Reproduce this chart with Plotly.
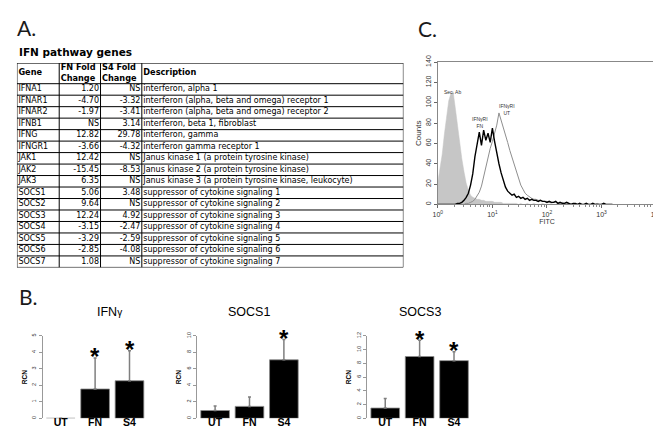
import plotly.graph_objects as go

# ---------------- Panel A: table data ----------------
TABLE_HEADERS = ["Gene", "FN Fold<br>Change", "S4 Fold<br>Change", "Description"]
GENES = ["IFNA1", "IFNAR1", "IFNAR2", "IFNB1", "IFNG", "IFNGR1", "JAK1", "JAK2",
         "JAK3", "SOCS1", "SOCS2", "SOCS3", "SOCS4", "SOCS5", "SOCS6", "SOCS7"]
FN_FOLD = ["1.20", "-4.70", "-1.97", "NS", "12.82", "-3.66", "12.42", "-15.45",
           "6.35", "5.06", "9.64", "12.24", "-3.15", "-3.29", "-2.85", "1.08"]
S4_FOLD = ["NS", "-3.32", "-3.41", "3.14", "29.78", "-4.32", "NS", "-8.53",
           "NS", "3.48", "NS", "4.92", "-2.47", "-2.59", "-4.08", "NS"]
DESCRIPTIONS = [
    "interferon, alpha 1",
    "interferon (alpha, beta and omega) receptor 1",
    "interferon (alpha, beta and omega) receptor 2",
    "interferon, beta 1, fibroblast",
    "interferon, gamma",
    "interferon gamma receptor 1",
    "Janus kinase 1 (a protein tyrosine kinase)",
    "Janus kinase 2 (a protein tyrosine kinase)",
    "Janus kinase 3 (a protein tyrosine kinase, leukocyte)",
    "suppressor of cytokine signaling 1",
    "suppressor of cytokine signaling 2",
    "suppressor of cytokine signaling 3",
    "suppressor of cytokine signaling 4",
    "suppressor of cytokine signaling 5",
    "suppressor of cytokine signaling 6",
    "suppressor of cytokine signaling 7",
]

# ---------------- Panel B: qPCR bars ----------------
CONDITIONS = ["UT", "FN", "S4"]
BAR_TITLES = ["IFN<span style='font-size:10px'>γ</span>", "SOCS1", "SOCS3"]
IFNG_RCN = [0.0, 1.78, 2.28]
IFNG_ERR = [0.0, 1.88, 1.82]
SOCS1_RCN = [0.95, 1.45, 7.1]
SOCS1_ERR = [0.55, 1.15, 2.45]
SOCS3_RCN = [1.5, 9.0, 8.4]
SOCS3_ERR = [1.4, 2.35, 1.3]
SIGNIFICANT = [[False, True, True], [False, False, True], [False, True, True]]
Y_MAX = [5, 10, 12]
Y_STEP = [1, 2, 2]

# ---------------- Panel C: flow histogram ----------------
FITC_LOG = [0.00, 0.04, 0.08, 0.12, 0.16, 0.20, 0.24, 0.28, 0.32, 0.36,
            0.40, 0.44, 0.48, 0.52, 0.56, 0.60, 0.64, 0.68, 0.72, 0.76,
            0.80, 0.84, 0.88, 0.92, 0.96, 1.00, 1.04, 1.08, 1.12, 1.16,
            1.20, 1.24, 1.28, 1.32, 1.36, 1.40, 1.44, 1.48, 1.52, 1.56,
            1.60, 1.64, 1.68, 1.72, 1.76, 1.80, 1.84, 1.88, 1.92, 1.96,
            2.00, 2.04, 2.08, 2.12, 2.16, 2.20, 2.24, 2.28, 2.32, 2.36,
            2.40, 2.44, 2.48, 2.52, 2.56, 2.60, 2.64, 2.68, 2.72, 2.76,
            2.80, 2.84, 2.88, 2.92, 2.96, 3.00, 3.04, 3.08, 3.12, 3.16,
            3.20]
SEC_AB_COUNTS = [22, 35, 49, 69, 85, 102, 109, 111, 95, 77,
                 60, 45, 32, 21, 14, 9, 7, 6, 5, 5,
                 4, 4, 3, 3, 3, 3, 2, 2, 2, 2,
                 1, 1, 1, 1, 1, 1, 1, 0, 1, 0,
                 0, 1, 0, 0, 1, 0, 0, 0, 1, 0,
                 0, 0, 1, 0, 0, 0, 0, 1, 0, 0,
                 0, 0, 0, 0, 0, 0, 0, 0, 0, 0,
                 0, 0, 0, 0, 0, 0, 0, 0, 0, 0,
                 0]
FN_COUNTS = [0, 0, 0, 0, 0, 0, 0, 0, 0, 1,
             1, 2, 4, 7, 11, 19, 30, 47, 61, 71,
             58, 73, 63, 70, 61, 75, 62, 50, 40, 31,
             24, 17, 13, 11, 9, 10, 7, 8, 6, 7,
             5, 6, 4, 5, 4, 4, 3, 4, 3, 3,
             2, 3, 2, 2, 3, 1, 2, 1, 1, 2,
             1, 0, 1, 1, 0, 1, 0, 0, 1, 0,
             0, 1, 0, 0, 0, 0, 1, 0, 0, 0,
             0]
UT_COUNTS = [0, 0, 0, 0, 0, 0, 0, 0, 0, 0,
             0, 0, 0, 1, 1, 2, 3, 5, 8, 12,
             18, 27, 37, 48, 55, 62, 69, 78, 90, 83,
             75, 70, 61, 53, 46, 40, 33, 25, 19, 15,
             11, 9, 7, 6, 5, 5, 4, 4, 3, 3,
             3, 2, 2, 2, 2, 1, 1, 2, 1, 1,
             1, 0, 1, 0, 0, 1, 0, 0, 0, 0,
             0, 0, 0, 1, 0, 0, 0, 0, 0, 0,
             0]
X_TICK_VALS = [1, 10, 100, 1000, 10000]
X_TICK_TEXT = ["10<sup>0</sup>", "10<sup>1</sup>", "10<sup>2</sup>", "10<sup>3</sup>", "10<sup>4</sup>"]

W, H = 661, 429


def px(x):
    return x / W


def py(y):
    return 1 - y / H


fig = go.Figure()
annotations = []
shapes = []

# ---- Table (drawn on a hidden axis pair; units are pixels inside the table box)
COL_EDGES = [0, 43, 85, 127, 393]
HEADER_H = 21
ROW_H = 11.7
n_rows = len(GENES)
table_h = HEADER_H + ROW_H * n_rows
row_centers = [HEADER_H + ROW_H * (i + 0.5) for i in range(n_rows)]
fig.update_layout(
    xaxis5=dict(domain=[px(4), px(4 + COL_EDGES[-1])], anchor="y5", range=[0, COL_EDGES[-1]], visible=False),
    yaxis5=dict(domain=[py(49 + table_h), py(49)], anchor="x5", range=[table_h, 0], visible=False),
)
line_style = dict(color="black", width=1)
for xe in COL_EDGES:
    shapes.append(dict(type="line", xref="x5", yref="y5", x0=xe, x1=xe, y0=0, y1=table_h, line=line_style))
for yb in [0, HEADER_H] + [HEADER_H + ROW_H * (i + 1) for i in range(n_rows)]:
    shapes.append(dict(type="line", xref="x5", yref="y5", x0=0, x1=COL_EDGES[-1], y0=yb, y1=yb, line=line_style))
cell_font = dict(family="DejaVu Sans", size=8.0, color="black")
for ci, (col_vals, align) in enumerate(zip([GENES, FN_FOLD, S4_FOLD, DESCRIPTIONS],
                                           ["left", "right", "right", "left"])):
    if align == "left":
        xs, pos = [COL_EDGES[ci] + 1.5] * n_rows, "middle right"
    else:
        xs, pos = [COL_EDGES[ci + 1] - 1.5] * n_rows, "middle left"
    fig.add_trace(go.Scatter(x=xs, y=row_centers, text=col_vals, mode="text", textposition=pos,
                             textfont=cell_font, xaxis="x5", yaxis="y5", cliponaxis=False,
                             hoverinfo="skip", showlegend=False))
fig.add_trace(go.Scatter(x=[e + 1.5 for e in COL_EDGES[:-1]], y=[HEADER_H / 2] * 4,
                         text=[f"<b>{h}</b>" for h in TABLE_HEADERS], mode="text",
                         textposition="middle right", textfont=dict(family="DejaVu Sans", size=8.2, color="black"),
                         xaxis="x5", yaxis="y5", cliponaxis=False, hoverinfo="skip", showlegend=False))

# ---- Bars
bar_sets = [(IFNG_RCN, IFNG_ERR), (SOCS1_RCN, SOCS1_ERR), (SOCS3_RCN, SOCS3_ERR)]
x_domains = [(30, 137), (187, 294), (360, 467)]
for k, ((vals, errs), (x0, x1)) in enumerate(zip(bar_sets, x_domains), start=1):
    fig.add_trace(go.Bar(
        x=CONDITIONS, y=vals, width=1 / 1.2,
        marker=dict(color="black", line=dict(color="#8c8c8c", width=0.8)),
        error_y=dict(type="data", array=errs, arrayminus=[0] * 3, symmetric=False,
                     color="#7f7f7f", thickness=1.5, width=1.5),
        xaxis=f"x{k}", yaxis=f"y{k}", showlegend=False,
    ))
    fig.update_layout(**{
        f"xaxis{k}": dict(domain=[px(x0), px(x1)], anchor=f"y{k}", type="category",
                          range=[-0.53, 2.53], showline=False, showgrid=False,
                          ticks="outside", ticklen=2, tickcolor="#aaaaaa", ticklabelstandoff=-8,
                          tickfont=dict(family="Liberation Sans", size=10.5, color="black", weight="bold")),
        f"yaxis{k}": dict(domain=[py(411), py(327)], anchor=f"x{k}", range=[0, Y_MAX[k - 1]],
                          dtick=Y_STEP[k - 1], tickangle=-90, showline=True, linecolor="#999999",
                          linewidth=1, ticks="outside", ticklen=3, tickcolor="#999999",
                          showgrid=False, zeroline=False,
                          tickfont=dict(family="Liberation Sans", size=5.5, color="#333333"),
                          title=dict(text="<b>RCN</b>", standoff=3,
                                     font=dict(family="Liberation Sans", size=6.5, color="black"))),
    })
    annotations.append(dict(xref="paper", yref="paper", x=px((x0 + x1) / 2), y=py(312),
                            text=BAR_TITLES[k - 1], showarrow=False,
                            font=dict(family="Liberation Sans", size=12.5, color="black")))
    for cond, v, e, s in zip(CONDITIONS, vals, errs, SIGNIFICANT[k - 1]):
        if s:
            annotations.append(dict(xref=f"x{k}", yref=f"y{k}", x=cond, y=v + e, text="<b>*</b>",
                                    showarrow=False, yanchor="middle", yshift=1,
                                    font=dict(family="Liberation Sans", size=24, color="black")))

# ---- Histogram
fitc = [10 ** v for v in FITC_LOG]
fig.add_trace(go.Scatter(x=fitc, y=SEC_AB_COUNTS, mode="lines", fill="tozeroy",
                         fillcolor="#c6c6c6", line=dict(color="#c6c6c6", width=0.5),
                         xaxis="x4", yaxis="y4", showlegend=False))
fig.add_trace(go.Scatter(x=fitc, y=UT_COUNTS, mode="lines", line=dict(color="#8e8e8e", width=1),
                         xaxis="x4", yaxis="y4", showlegend=False))
fig.add_trace(go.Scatter(x=fitc, y=FN_COUNTS, mode="lines", line=dict(color="black", width=1.4),
                         xaxis="x4", yaxis="y4", showlegend=False))
fig.update_layout(
    xaxis4=dict(domain=[px(432), px(654)], anchor="y4", type="log", range=[0, 4],
                tickvals=X_TICK_VALS, ticktext=X_TICK_TEXT, ticks="outside", ticklen=3,
                tickcolor="#666666", showline=True, linecolor="#888888", mirror=True,
                showgrid=False, zeroline=False,
                minor=dict(ticks="outside", ticklen=1.5, tickcolor="#888888", dtick="D1"),
                tickfont=dict(family="Liberation Sans", size=7, color="#333333"),
                title=dict(text="FITC", standoff=0, font=dict(family="Liberation Sans", size=7, color="#333333"))),
    yaxis4=dict(domain=[py(193), py(48)], anchor="x4", range=[0, 140], dtick=20, tickangle=-90,
                ticks="outside", ticklen=3, tickcolor="#666666", showline=True, linecolor="#888888",
                mirror=True, showgrid=False, zeroline=False,
                tickfont=dict(family="Liberation Sans", size=7, color="#333333"),
                title=dict(text="Counts", standoff=2, font=dict(family="Liberation Sans", size=8, color="#333333"))),
)
annotations += [
    dict(xref="x4", yref="y4", x=0.27, y=111, text="Sec. Ab", showarrow=False,
         font=dict(family="Liberation Sans", size=5, color="#333333")),
    dict(xref="x4", yref="y4", x=0.78, y=81, text="IFNγRI<br>FN", showarrow=False,
         font=dict(family="Liberation Sans", size=5, color="#333333")),
    dict(xref="x4", yref="y4", x=1.27, y=93, text="IFNγRI<br>UT", showarrow=False,
         font=dict(family="Liberation Sans", size=5, color="#333333")),
]

# ---- Panel letters & table title
for letter, (lx, ly) in zip(["A.", "B.", "C."], [(2, 13), (4, 287), (410, 14)]):
    annotations.append(dict(xref="paper", yref="paper", x=px(lx), y=py(ly), xanchor="left",
                            yanchor="middle", text=letter, showarrow=False,
                            font=dict(family="Lato", size=21, color="#1a1a1a")))
annotations.append(dict(xref="paper", yref="paper", x=px(4), y=py(38), xanchor="left", yanchor="middle",
                        text="<b>IFN pathway genes</b>", showarrow=False,
                        font=dict(family="DejaVu Sans", size=10.5, color="black")))

fig.update_layout(width=W, height=H, margin=dict(l=0, r=0, t=0, b=0),
                  paper_bgcolor="white", plot_bgcolor="white", annotations=annotations,
                  shapes=shapes, showlegend=False)
fig.write_html("out.html")
